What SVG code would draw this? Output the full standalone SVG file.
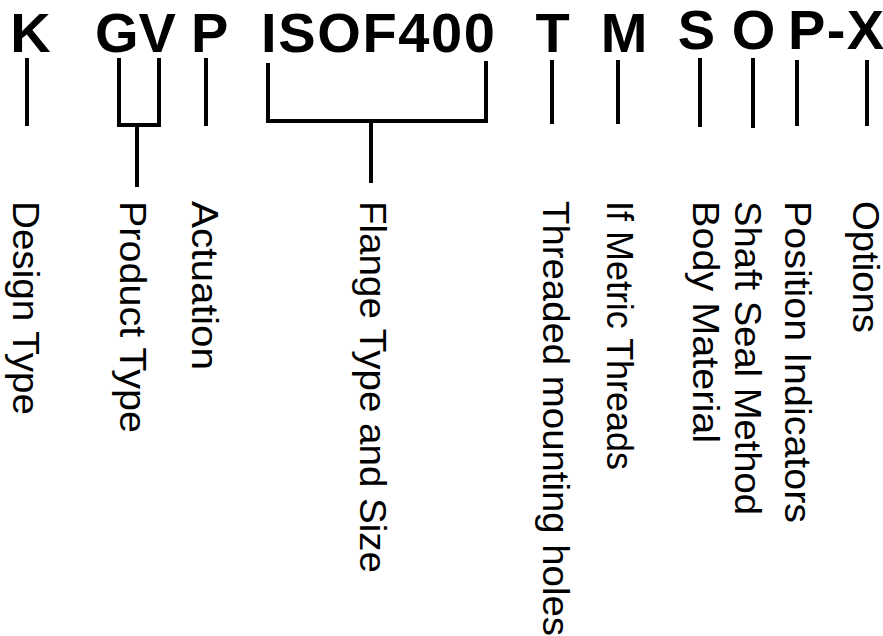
<svg xmlns="http://www.w3.org/2000/svg" width="883" height="636" viewBox="0 0 883 636">
<style>
.code{font-family:"Liberation Sans",Arial,sans-serif;font-weight:bold;font-size:56px;fill:#000}
.lbl{font-family:"Liberation Sans",Arial,sans-serif;font-size:36px;fill:#000}
.ln{stroke:#000;stroke-width:4;fill:none;stroke-linecap:butt}
</style>
<rect width="883" height="636" fill="#fff"/>
<g id="code">
<text class="code" x="30.5" y="52" text-anchor="middle">K</text>
<text class="code" x="95" y="52">GV</text>
<text class="code" x="191" y="52">P</text>
<text class="code" x="261" y="52" textLength="234" lengthAdjust="spacing">ISOF400</text>
<text class="code" x="552.5" y="52" text-anchor="middle">T</text>
<text class="code" x="624" y="52" text-anchor="middle">M</text>
<text class="code" x="696.5" y="49" text-anchor="middle">S</text>
<text class="code" x="753.5" y="49" text-anchor="middle">O</text>
<text class="code" x="788" y="49" textLength="96" lengthAdjust="spacing">P-X</text>
</g>
<g id="connectors">
<line class="ln" x1="27" y1="58" x2="27" y2="126"/>
<polyline class="ln" points="119,58 119,125 159,125 159,58"/>
<line class="ln" x1="137" y1="125" x2="137" y2="187"/>
<line class="ln" x1="206" y1="58" x2="206" y2="126"/>
<polyline class="ln" points="268,63 268,121 486,121 486,61"/>
<line class="ln" x1="371" y1="121" x2="371" y2="183"/>
<line class="ln" x1="552" y1="60" x2="552" y2="124"/>
<line class="ln" x1="618" y1="60" x2="618" y2="124"/>
<line class="ln" x1="700" y1="58" x2="700" y2="127"/>
<line class="ln" x1="753" y1="58" x2="753" y2="128"/>
<line class="ln" x1="797" y1="60" x2="797" y2="126"/>
<line class="ln" x1="867" y1="60" x2="867" y2="126"/>
</g>
<g id="labels">
<text class="lbl" transform="translate(13,201) rotate(90)" textLength="214" lengthAdjust="spacingAndGlyphs">Design Type</text>
<text class="lbl" transform="translate(120,201) rotate(90)" textLength="232" lengthAdjust="spacingAndGlyphs">Product Type</text>
<text class="lbl" transform="translate(192,201) rotate(90)" textLength="169" lengthAdjust="spacingAndGlyphs">Actuation</text>
<text class="lbl" transform="translate(360,201) rotate(90)" textLength="372" lengthAdjust="spacingAndGlyphs">Flange Type and Size</text>
<text class="lbl" transform="translate(543,201) rotate(90)" textLength="435" lengthAdjust="spacingAndGlyphs">Threaded mounting holes</text>
<text class="lbl" transform="translate(607,201) rotate(90)" textLength="269" lengthAdjust="spacingAndGlyphs">If Metric Threads</text>
<text class="lbl" transform="translate(693,201) rotate(90)" textLength="242" lengthAdjust="spacingAndGlyphs">Body Material</text>
<text class="lbl" transform="translate(735,201) rotate(90)" textLength="314" lengthAdjust="spacingAndGlyphs">Shaft Seal Method</text>
<text class="lbl" transform="translate(785,201) rotate(90)" textLength="322" lengthAdjust="spacingAndGlyphs">Position Indicators</text>
<text class="lbl" transform="translate(853,201) rotate(90)" textLength="132" lengthAdjust="spacingAndGlyphs">Options</text>
</g>
</svg>
